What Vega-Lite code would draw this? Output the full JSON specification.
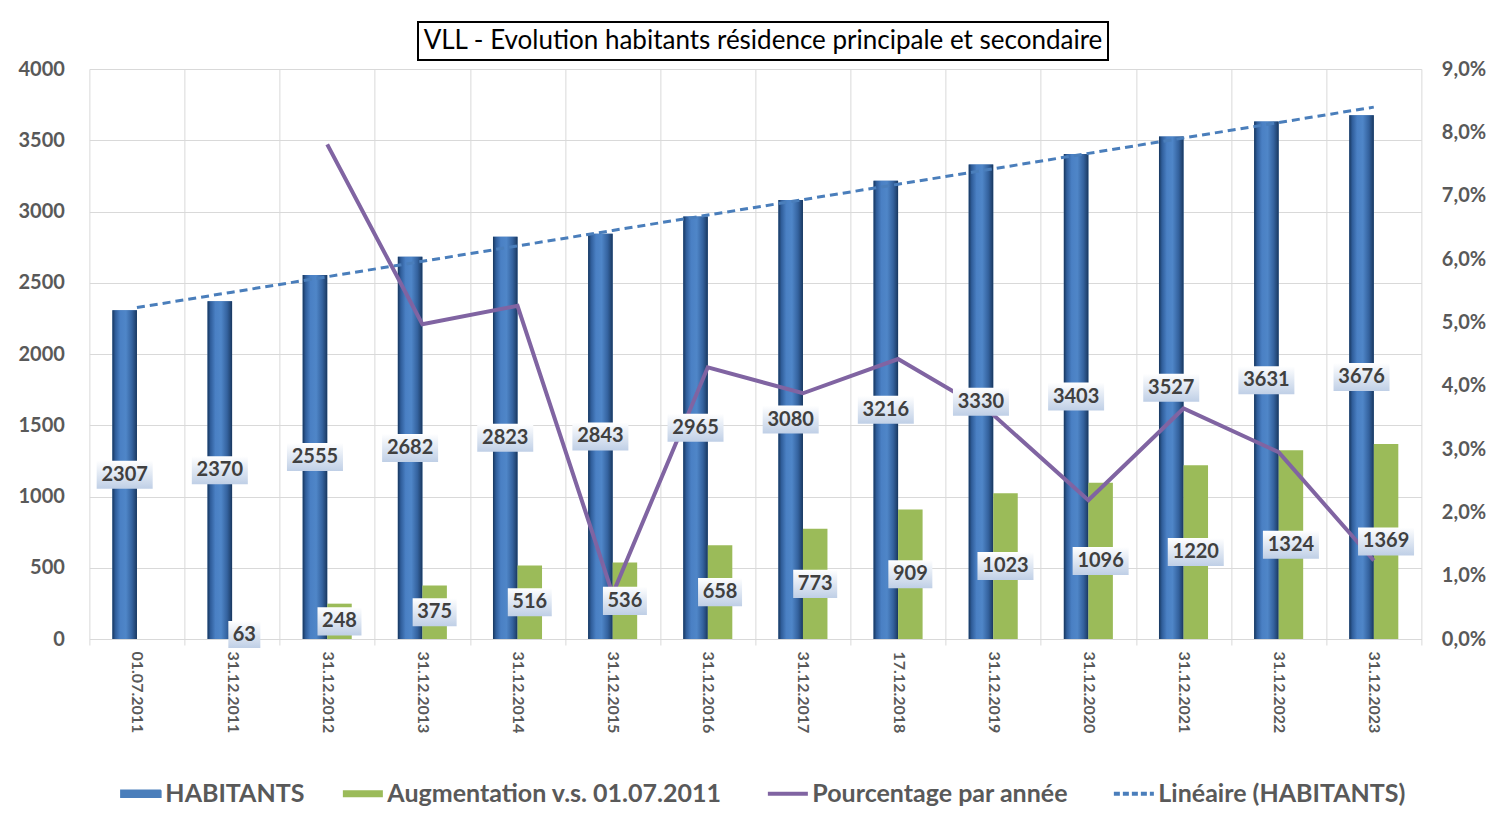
{
  "$schema": "https://vega.github.io/schema/vega-lite/v6.json",
  "padding": {"left": 17, "top": 21, "right": 5, "bottom": 0},
  "background": "white",
  "config": {"font": "Lato", "view": {"stroke": null}},
  "datasets": {
    "d": [
      {"date": "01.07.2011", "hab": 2307, "aug": null, "pct": null, "trend": 2325.8},
      {"date": "31.12.2011", "hab": 2370, "aug": 63, "pct": null, "trend": 2434.0},
      {"date": "31.12.2012", "hab": 2555, "aug": 248, "pct": 0.0781, "trend": 2542.2},
      {"date": "31.12.2013", "hab": 2682, "aug": 375, "pct": 0.0497, "trend": 2650.4},
      {"date": "31.12.2014", "hab": 2823, "aug": 516, "pct": 0.0526, "trend": 2758.6},
      {"date": "31.12.2015", "hab": 2843, "aug": 536, "pct": 0.0071, "trend": 2866.8},
      {"date": "31.12.2016", "hab": 2965, "aug": 658, "pct": 0.0429, "trend": 2975.0},
      {"date": "31.12.2017", "hab": 3080, "aug": 773, "pct": 0.0388, "trend": 3083.2},
      {"date": "17.12.2018", "hab": 3216, "aug": 909, "pct": 0.0442, "trend": 3191.4},
      {"date": "31.12.2019", "hab": 3330, "aug": 1023, "pct": 0.0354, "trend": 3299.6},
      {"date": "31.12.2020", "hab": 3403, "aug": 1096, "pct": 0.0219, "trend": 3407.8},
      {"date": "31.12.2021", "hab": 3527, "aug": 1220, "pct": 0.0364, "trend": 3516.0},
      {"date": "31.12.2022", "hab": 3631, "aug": 1324, "pct": 0.0295, "trend": 3624.2},
      {"date": "31.12.2023", "hab": 3676, "aug": 1369, "pct": 0.0124, "trend": 3732.4}
    ]
  },
  "spacing": -2,
  "center": true,
  "resolve": {"scale": {"x": "independent", "y": "independent", "color": "independent"}},
  "vconcat": [
    {
      "width": 690,
      "height": 38,
      "view": {"stroke": "black", "strokeWidth": 2},
      "data": {"values": [{"t": "VLL - Evolution habitants résidence principale et secondaire"}]},
      "mark": {"type": "text", "font": "Lato", "fontSize": 26, "color": "black", "align": "center", "baseline": "middle"},
      "encoding": {
        "text": {"field": "t", "type": "nominal"},
        "x": {"datum": 0.5, "type": "quantitative", "scale": {"domain": [0, 1]}, "axis": null},
        "y": {"datum": 0.5, "type": "quantitative", "scale": {"domain": [0, 1]},
              "axis": {"orient": "right", "labels": false, "ticks": false, "domain": false, "grid": false, "title": null, "minExtent": 48, "maxExtent": 48}}
      }
    },
    {
      "width": 1332,
      "height": 570,
      "data": {"name": "d"},
      "resolve": {"scale": {"y": "independent"}},
      "layer": [
        {
          "layer": [
            {
              "mark": {"type": "bar"},
              "encoding": {
                "x": {"field": "date", "type": "nominal", "sort": null, "title": null,
                      "scale": {"paddingInner": 0, "paddingOuter": 0},
                      "axis": {"labelAngle": 90, "labelFont": "Lato", "labelFontSize": 16, "labelFontWeight": "bold", "labelColor": "#595959",
                               "tickBand": "extent", "tickColor": "#d9d9d9", "tickSize": 6, "labelPadding": 6,
                               "domainColor": "#d9d9d9", "grid": true, "gridColor": "#d9d9d9"}},
                "xOffset": {"datum": "HABITANTS", "type": "nominal",
                            "scale": {"domain": ["HABITANTS", "Augmentation v.s. 01.07.2011"], "paddingInner": 0, "paddingOuter": 0.94}},
                "y": {"field": "hab", "type": "quantitative", "title": null,
                      "scale": {"domain": [0, 4000], "nice": false},
                      "axis": {"values": [0, 500, 1000, 1500, 2000, 2500, 3000, 3500, 4000], "format": "d",
                               "labelFont": "Lato", "labelFontSize": 20, "labelFontWeight": "bold", "labelColor": "#595959",
                               "ticks": false, "domain": false, "labelPadding": 25, "gridColor": "#d9d9d9"}},
                "color": {"datum": "HABITANTS", "type": "nominal",
                          "scale": {"domain": ["HABITANTS", "Augmentation v.s. 01.07.2011", "Pourcentage par année", "Linéaire (HABITANTS)"],
                                    "range": ["#4a7ebb", "#9bbb59", "#8064a2", "#4a7ebb"]},
                          "legend": {"orient": "none", "legendX": 39, "legendY": 712, "direction": "horizontal", "title": null,
                                     "labelFont": "Lato", "labelFontSize": 25, "labelFontWeight": "bold", "labelColor": "#595959",
                                     "symbolSize": 1600, "labelOffset": 12, "columnPadding": 37, "labelLimit": 600,
                                     "encode": {"symbols": {"update": {
                                       "shape": {"signal": "datum.value=='HABITANTS'||datum.value=='Augmentation v.s. 01.07.2011' ? 'M-1,-0.17H1V0.17H-1Z' : 'M-1,0H1'"},
                                       "fill": {"signal": "datum.value=='HABITANTS' ? '#4a7ebb' : datum.value=='Augmentation v.s. 01.07.2011' ? '#9bbb59' : 'transparent'"},
                                       "stroke": {"signal": "datum.value=='HABITANTS' ? '#1f3864' : datum.value=='Augmentation v.s. 01.07.2011' ? '#9bbb59' : datum.value=='Pourcentage par année' ? '#8064a2' : '#4a7ebb'"},
                                       "strokeWidth": {"signal": "datum.value=='HABITANTS' ? 1.5 : datum.value=='Augmentation v.s. 01.07.2011' ? 0 : 4"},
                                       "strokeDash": {"signal": "datum.value=='Linéaire (HABITANTS)' ? [6,3] : [1,0]"},
                                       "size": {"value": 1600},
                                       "opacity": {"value": 1}
                                     }}}}}
              }
            },
            {
              "mark": {"type": "bar",
                       "fill": {"gradient": "linear", "x1": 0, "y1": 0, "x2": 1, "y2": 0,
                                "stops": [{"offset": 0, "color": "#17365d"}, {"offset": 0.12, "color": "#2f5d9a"},
                                          {"offset": 0.32, "color": "#4a80c4"}, {"offset": 0.55, "color": "#4f86c8"},
                                          {"offset": 0.8, "color": "#34629e"}, {"offset": 0.92, "color": "#254a7a"},
                                          {"offset": 1, "color": "#17365d"}]}},
              "encoding": {
                "x": {"field": "date", "type": "nominal", "sort": null},
                "xOffset": {"datum": "HABITANTS", "type": "nominal"},
                "y": {"field": "hab", "type": "quantitative"}
              }
            },
            {
              "mark": {"type": "bar"},
              "encoding": {
                "x": {"field": "date", "type": "nominal", "sort": null},
                "xOffset": {"datum": "Augmentation v.s. 01.07.2011", "type": "nominal"},
                "y": {"field": "aug", "type": "quantitative"},
                "color": {"datum": "Augmentation v.s. 01.07.2011", "type": "nominal"}
              }
            },
            {
              "mark": {"type": "line", "strokeDash": [8, 5], "strokeWidth": 3},
              "encoding": {
                "x": {"field": "date", "type": "nominal", "sort": null},
                "y": {"field": "trend", "type": "quantitative"},
                "color": {"datum": "Linéaire (HABITANTS)", "type": "nominal"}
              }
            }
          ]
        },
        {
          "layer": [
            {
              "mark": {"type": "line", "strokeWidth": 4},
              "encoding": {
                "x": {"field": "date", "type": "nominal", "sort": null},
                "y": {"field": "pct", "type": "quantitative", "title": null,
                      "scale": {"domain": [0, 0.09], "nice": false},
                      "axis": {"orient": "right", "values": [0, 0.01, 0.02, 0.03, 0.04, 0.05, 0.06, 0.07, 0.08, 0.09],
                               "labelExpr": "replace(format(datum.value, '.1%'), '.', ',')",
                               "labelFont": "Lato", "labelFontSize": 20, "labelFontWeight": "bold", "labelColor": "#595959",
                               "grid": false, "ticks": false, "domain": false, "labelPadding": 20}},
                "color": {"datum": "Pourcentage par année", "type": "nominal"}
              }
            }
          ]
        },
        {
          "layer": [
            {
              "mark": {"type": "point", "filled": true, "opacity": 1, "strokeWidth": 0,
                       "shape": "M-1,-0.5H1V0.5H-1Z", "size": 3136,
                       "fill": {"gradient": "linear", "x1": 0, "y1": 0, "x2": 0, "y2": 1,
                                "stops": [{"offset": 0, "color": "#ffffff"}, {"offset": 1, "color": "#bfcfe6"}]}},
              "encoding": {
                "x": {"field": "date", "type": "nominal", "sort": null},
                "xOffset": {"datum": "HABITANTS", "type": "nominal"},
                "y": {"field": "hab", "type": "quantitative", "scale": {"domain": [0, 8000], "nice": false}, "axis": null}
              }
            },
            {
              "mark": {"type": "text", "font": "Lato", "fontSize": 20, "fontWeight": "bold", "color": "#404040", "align": "center", "baseline": "middle"},
              "encoding": {
                "x": {"field": "date", "type": "nominal", "sort": null},
                "xOffset": {"datum": "HABITANTS", "type": "nominal"},
                "y": {"field": "hab", "type": "quantitative"},
                "text": {"field": "hab", "type": "quantitative", "format": "d"}
              }
            },
            {
              "transform": [{"filter": "datum.aug != null && datum.aug < 100"}],
              "mark": {"type": "point", "filled": true, "opacity": 1, "strokeWidth": 0,
                       "shape": "M-1,-0.85H1V0.85H-1Z", "size": 1024,
                       "fill": {"gradient": "linear", "x1": 0, "y1": 0, "x2": 0, "y2": 1,
                                "stops": [{"offset": 0, "color": "#ffffff"}, {"offset": 1, "color": "#bfcfe6"}]}},
              "encoding": {
                "x": {"field": "date", "type": "nominal", "sort": null},
                "xOffset": {"datum": "Augmentation v.s. 01.07.2011", "type": "nominal"},
                "y": {"field": "aug", "type": "quantitative"}
              }
            },
            {
              "transform": [{"filter": "datum.aug != null && datum.aug >= 100 && datum.aug < 1000"}],
              "mark": {"type": "point", "filled": true, "opacity": 1, "strokeWidth": 0,
                       "shape": "M-1,-0.64H1V0.64H-1Z", "size": 1936,
                       "fill": {"gradient": "linear", "x1": 0, "y1": 0, "x2": 0, "y2": 1,
                                "stops": [{"offset": 0, "color": "#ffffff"}, {"offset": 1, "color": "#bfcfe6"}]}},
              "encoding": {
                "x": {"field": "date", "type": "nominal", "sort": null},
                "xOffset": {"datum": "Augmentation v.s. 01.07.2011", "type": "nominal"},
                "y": {"field": "aug", "type": "quantitative"}
              }
            },
            {
              "transform": [{"filter": "datum.aug != null && datum.aug >= 1000"}],
              "mark": {"type": "point", "filled": true, "opacity": 1, "strokeWidth": 0,
                       "shape": "M-1,-0.5H1V0.5H-1Z", "size": 3136,
                       "fill": {"gradient": "linear", "x1": 0, "y1": 0, "x2": 0, "y2": 1,
                                "stops": [{"offset": 0, "color": "#ffffff"}, {"offset": 1, "color": "#bfcfe6"}]}},
              "encoding": {
                "x": {"field": "date", "type": "nominal", "sort": null},
                "xOffset": {"datum": "Augmentation v.s. 01.07.2011", "type": "nominal"},
                "y": {"field": "aug", "type": "quantitative"}
              }
            },
            {
              "transform": [{"filter": "datum.aug != null"}],
              "mark": {"type": "text", "font": "Lato", "fontSize": 20, "fontWeight": "bold", "color": "#404040", "align": "center", "baseline": "middle"},
              "encoding": {
                "x": {"field": "date", "type": "nominal", "sort": null},
                "xOffset": {"datum": "Augmentation v.s. 01.07.2011", "type": "nominal"},
                "y": {"field": "aug", "type": "quantitative"},
                "text": {"field": "aug", "type": "quantitative", "format": "d"}
              }
            }
          ]
        }
      ]
    }
  ]
}
